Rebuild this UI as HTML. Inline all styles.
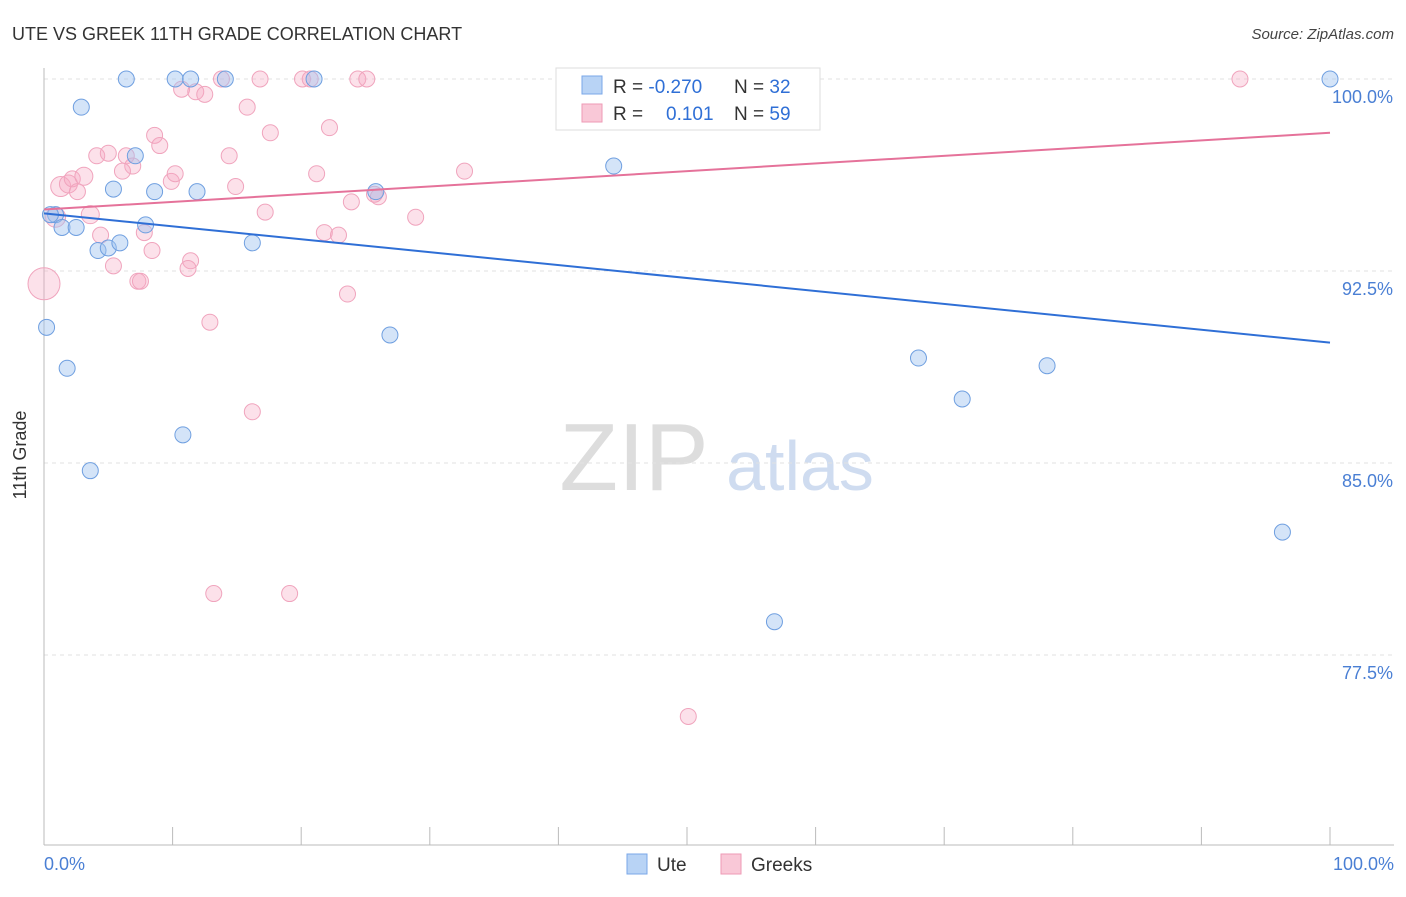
<!DOCTYPE html>
<html><head><meta charset="utf-8"><style>
body{margin:0;background:#fff;font-family:"Liberation Sans",sans-serif;}
svg text{font-family:"Liberation Sans",sans-serif;}
</style></head><body>
<svg id="c" width="1406" height="892" xmlns="http://www.w3.org/2000/svg">
<text x="12" y="40" font-size="18" fill="#333">UTE VS GREEK 11TH GRADE CORRELATION CHART</text>
<text x="1394" y="39" font-size="15" fill="#444" font-style="italic" text-anchor="end">Source: ZipAtlas.com</text>
<g><text x="634" y="490" font-size="96" fill="#ddd" font-family="Liberation Serif" text-anchor="middle">ZIP</text><text x="800" y="490" font-size="70" fill="#cfdcf0" text-anchor="middle">atlas</text></g>
<g id="grid"></g><g id="axes"></g><g id="marks"></g>
<text x="26" y="455" font-size="18" fill="#333" text-anchor="middle" transform="rotate(-90 26 455)">11th Grade</text>
<text x="44" y="870" font-size="18" fill="#4a7fd4">0.0%</text>
<text x="1394" y="870" font-size="18" fill="#4a7fd4" text-anchor="end">100.0%</text>
<g>
<rect x="556" y="68" width="264" height="62" fill="#fff" stroke="#ddd"/>
<rect x="582" y="76" width="20" height="18" fill="#b8d3f5" stroke="#7aa7e8"/>
<rect x="582" y="104" width="20" height="18" fill="#f9c8d7" stroke="#ee9ab5"/>
<text x="613" y="93" font-size="19" fill="#333">R = <tspan fill="#2f6fd6">-0.270</tspan></text>
<text x="734" y="93" font-size="19" fill="#333">N = <tspan fill="#2f6fd6">32</tspan></text>
<text x="613" y="120" font-size="19" fill="#333">R = <tspan fill="#2f6fd6" x="666">0.101</tspan></text>
<text x="734" y="120" font-size="19" fill="#333">N = <tspan fill="#2f6fd6">59</tspan></text>
</g>
<g>
<rect x="627" y="854" width="20" height="20" fill="#b8d3f5" stroke="#7aa7e8"/><text x="657" y="871" font-size="19" fill="#333">Ute</text>
<rect x="721" y="854" width="20" height="20" fill="#f9c8d7" stroke="#ee9ab5"/><text x="751" y="871" font-size="19" fill="#333">Greeks</text>
</g>
</svg>
<script>
const yTicks=[100,92.5,85,77.5];
const uteX=[6.4,10.2,11.4,14.1,100,2.9,7.1,5.4,8.6,11.9,25.8,44.3,0.9,1.4,2.5,7.9,4.2,5,5.9,16.2,0.2,26.9,1.8,10.8,3.6,68,71.4,78,96.3,56.8,0.5,21];
const uteY=[100,100,100,100,100,98.9,97,95.7,95.6,95.6,95.6,96.6,94.7,94.2,94.2,94.3,93.3,93.4,93.6,93.6,90.3,90,88.7,86.1,84.7,89.1,87.5,88.8,82.3,78.8,94.7,100];
const grX=[0,1.3,1.9,2.2,3.1,2.6,3.6,0.9,4.1,5,6.4,6.9,6.1,8.6,9,9.9,10.2,10.7,11.8,12.5,13.8,15.8,16.8,17.6,14.4,14.9,17.2,20.1,20.7,22.2,24.4,25.1,21.2,23.9,21.8,22.9,26,28.9,32.7,4.4,5.4,7.8,8.4,7.3,11.4,11.2,12.9,16.2,13.2,19.1,50.1,93,41.1,43.2,52.4,56.5,23.6,25.7,7.5];
const grY=[92,95.8,95.9,96.1,96.2,95.6,94.7,94.6,97,97.1,97,96.6,96.4,97.8,97.4,96,96.3,99.6,99.5,99.4,100,98.9,100,97.9,97,95.8,94.8,100,100,98.1,100,100,96.3,95.2,94,93.9,95.4,94.6,96.4,93.9,92.7,94,93.3,92.1,92.9,92.6,90.5,87,79.9,79.9,75.1,100,100,100,100,100,91.6,95.5,92.1];
const grR=[16,10,9,8,9,8,9,10,8,8,8,8,8,8,8,8,8,8,8,8,8,8,8,8,8,8,8,8,8,8,8,8,8,8,8,8,8,8,8,8,8,8,8,8,8,8,8,8,8,8,8,8,8,8,8,8,8,8,8];
const uteLine=[94.75,89.7], grLine=[94.9,97.9];
const NS="http://www.w3.org/2000/svg";
const X0=44,X1=1330,Y0=79,PXP=25.6;
const sx=v=>X0+(X1-X0)*v/100, sy=v=>Y0+(100-v)*PXP;
function mk(t,a,p){const e=document.createElementNS(NS,t);for(const k in a)e.setAttribute(k,a[k]);p.appendChild(e);return e;}
const g=document.getElementById('grid'),ax=document.getElementById('axes'),m=document.getElementById('marks');
yTicks.forEach(v=>{const l=mk('line',{x1:X0,x2:1394,y1:sy(v),y2:sy(v),stroke:'#e2e2e2','stroke-dasharray':'4,4'},g);


const t=mk('text',{x:1393,y:sy(v)+24,'font-size':18,fill:'#4a7fd4','text-anchor':'end'},g);t.textContent=v.toFixed(1)+'%';

});
mk('line',{x1:X0,x2:X0,y1:68,y2:845,stroke:'#bbb'},ax);
mk('line',{x1:X0,x2:1394,y1:845,y2:845,stroke:'#bbb'},ax);
for(let i=0;i<=10;i++){const l=mk('line',{x1:sx(i*10),x2:sx(i*10),y1:827,y2:845,stroke:'#bbb'},ax);

}
grX.forEach((v,i)=>{const c=mk('circle',{cx:sx(v),cy:sy(grY[i]),r:grR[i],fill:'rgba(246,170,195,0.35)',stroke:'#f0a4bd','stroke-width':1},m);

});
uteX.forEach((v,i)=>{const c=mk('circle',{cx:sx(v),cy:sy(uteY[i]),r:8,fill:'rgba(160,195,240,0.45)',stroke:'#6f9fe0','stroke-width':1},m);

});
const l1=mk('line',{x1:sx(0),x2:sx(100),y1:sy(uteLine[0]),y2:sy(uteLine[1]),stroke:'#2f6fd6','stroke-width':2},m);


const l2=mk('line',{x1:sx(0),x2:sx(100),y1:sy(grLine[0]),y2:sy(grLine[1]),stroke:'#e5729a','stroke-width':2},m);


</script>
</body></html>
